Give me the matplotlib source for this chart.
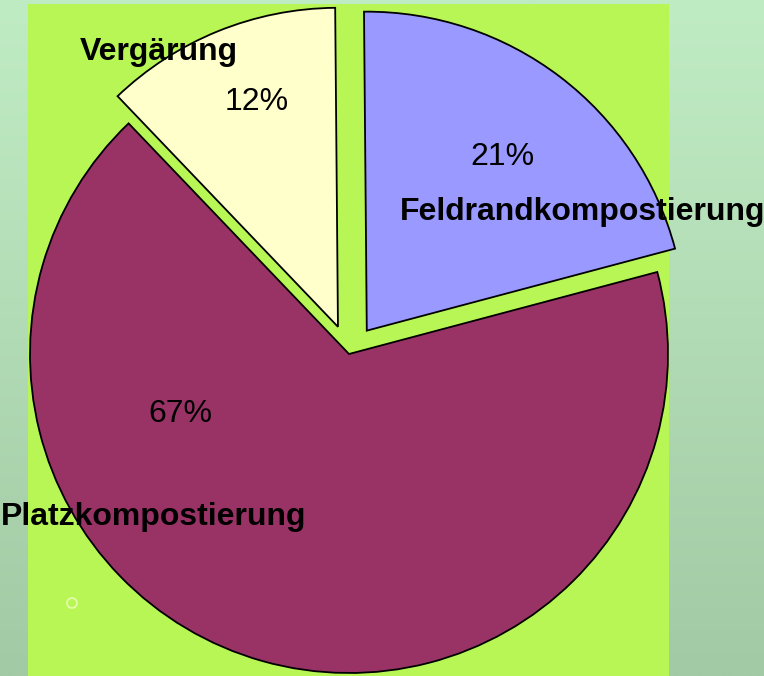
import numpy as np
import matplotlib
matplotlib.use('Agg')
import matplotlib.pyplot as plt
from matplotlib.colors import LinearSegmentedColormap
from matplotlib.patches import Rectangle, Circle

# Data
labels = ['Feldrandkompostierung', 'Platzkompostierung', 'Vergärung']
shares = [21, 67, 12]
colors = ['#9999ff', '#993366', '#ffffcc']
explode = [0.092, 0.0, 0.092]   # fraction of radius

W, H = 764, 676
RADIUS = 319


def py(y):
    # pixel row (top-down) -> data y
    return H - y


fig = plt.figure(figsize=(W / 100., H / 100.), dpi=100)
ax = fig.add_axes([0, 0, 1, 1])
ax.set_xlim(0, W)
ax.set_ylim(0, H)
ax.set_aspect('equal')
ax.axis('off')

# Slide background: soft vertical green gradient
cmap = LinearSegmentedColormap.from_list('bg', ['#a2caa4', '#c0ecc4'])
grad = np.linspace(0, 1, 256).reshape(-1, 1)
ax.imshow(grad, cmap=cmap, extent=[0, W, 0, H], origin='lower',
          aspect='auto', zorder=0)

# Chart area
ax.add_patch(Rectangle((28, 0), 641, py(4), facecolor='#b8f655',
                       edgecolor='none', zorder=1))

# Pie (matplotlib's explode is in data units, so scale by radius)
wedges, _ = ax.pie(shares, colors=colors,
                   explode=[e * RADIUS for e in explode], startangle=90.5,
                   counterclock=False, center=(349, py(354)), radius=RADIUS,
                   wedgeprops=dict(edgecolor='black', linewidth=1.3))
for w in wedges:
    w.set_zorder(2)
ax.set_xlim(0, W)
ax.set_ylim(0, H)

# Percent labels
pct_pos = [(502, 157), (180, 414), (257, 102)]
for s, (x, y) in zip(shares, pct_pos):
    ax.text(x, py(y), '%d%%' % s, fontsize=23, family='Liberation Sans',
            ha='center', va='center', zorder=5)

# Category labels
name_pos = [(400, 212), (1, 517), (80, 52)]
for name, (x, y) in zip(labels, name_pos):
    ax.text(x, py(y), name, fontsize=23, fontweight='bold',
            family='Liberation Sans', ha='left', va='center', zorder=5)

# small ring marker
ax.add_patch(Circle((72, py(603)), 5, facecolor='none',
                    edgecolor='#e4fbb0', linewidth=1.2, zorder=3))

fig.savefig('out.png', dpi=100)
